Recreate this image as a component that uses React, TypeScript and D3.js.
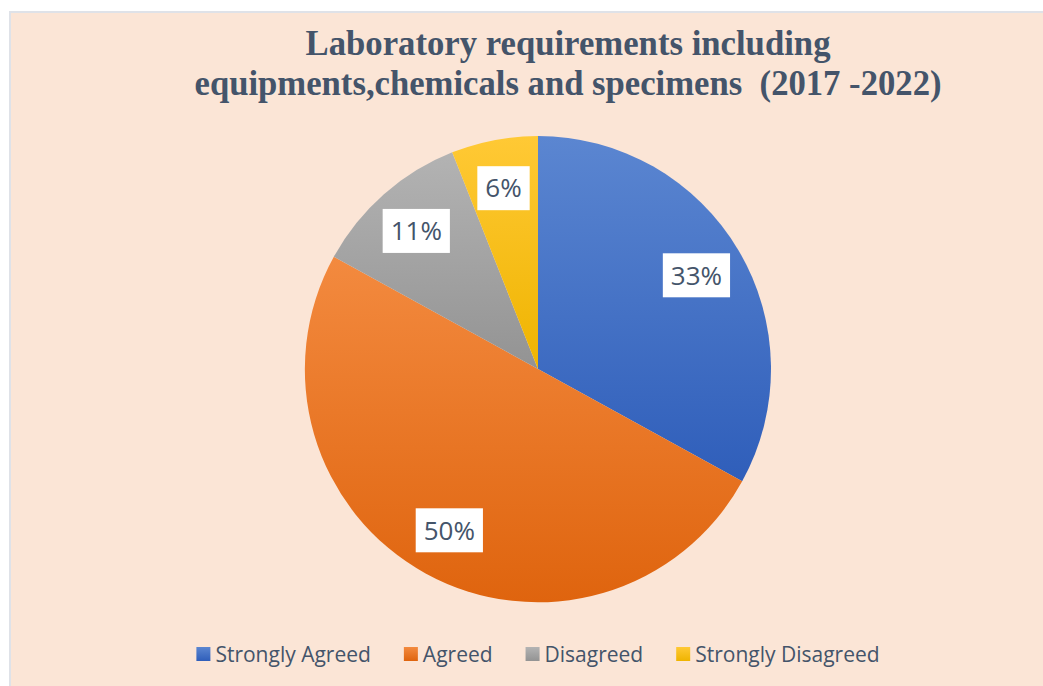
import React from 'react';
import * as d3 from 'd3';

const categories = ['Strongly Agreed', 'Agreed', 'Disagreed', 'Strongly Disagreed'];
const values = [33, 50, 11, 6];
const labels = ['33%', '50%', '11%', '6%'];
const titleLines = ['Laboratory requirements including', 'equipments,chemicals and specimens  (2017 -2022)'];

// light top -> dark bottom, like the Office gradient fill
const gradTop = ['#5b86d1', '#f38a3f', '#b3b3b3', '#ffc935'];
const gradBottom = ['#2f5eba', '#df640e', '#939393', '#efb400'];

const W = 1043;
const H = 686;
const textColor = '#44546a';
const sansFont = '"Open Sans", sans-serif';

let ctx: CanvasRenderingContext2D | null = null;
function measure(text: string, font: string) {
  if (!ctx) ctx = document.createElement('canvas').getContext('2d');
  ctx!.font = font;
  return ctx!.measureText(text).width;
}

export default function App() {
  const cx = 538;
  const cy = 369;
  const radius = 233;

  const pie = d3.pie<number>().sort(null).value(d => d);
  const arcs = pie(values);
  const arc = d3.arc<d3.PieArcDatum<number>>().innerRadius(0).outerRadius(radius);
  const labelArc = d3.arc<d3.PieArcDatum<number>>().innerRadius(radius * 0.79).outerRadius(radius * 0.79);

  const labelSize = 26;
  const legendSize = 21;

  // legend layout: square, gap, text, then gap to next item, centred on pie
  const sq = 14;
  const items = categories.map(c => measure(c, `${legendSize}px "Open Sans"`));
  const itemW = items.map(w => sq + 5 + w);
  const totalW = d3.sum(itemW) + 33 * (items.length - 1);
  let lx = cx - totalW / 2;
  const legendX = itemW.map(w => {
    const x = lx;
    lx += w + 33;
    return x;
  });

  return (
    <svg width={W} height={H} style={{ position: 'absolute', left: 0, top: 0, display: 'block' }}>
      <defs>
        {categories.map((_, i) => (
          <linearGradient key={i} id={`g${i}`} x1="0" y1="0" x2="0" y2="1">
            <stop offset="0%" stopColor={gradTop[i]} />
            <stop offset="100%" stopColor={gradBottom[i]} />
          </linearGradient>
        ))}
      </defs>
      <rect x={0} y={0} width={W} height={H} fill="#ffffff" />
      <rect x={10} y={12} width={W + 10} height={H + 10} fill="#fbe5d6" stroke="#dfe2e8" strokeWidth={2} />

      {titleLines.map((t, i) => (
        <text
          key={i}
          x={568}
          y={55 + i * 40}
          textAnchor="middle"
          fontFamily='"Liberation Serif", "Times New Roman", serif'
          fontWeight="bold"
          fontSize={35}
          fill={textColor}
          textLength={i === 0 ? 525 : 747}
          lengthAdjust="spacingAndGlyphs"
          style={{ whiteSpace: 'pre' }}
        >
          {t}
        </text>
      ))}

      <g transform={`translate(${cx},${cy})`}>
        {arcs.map((a, i) => (
          <path key={i} d={arc(a) || ''} fill={`url(#g${i})`} />
        ))}
        {arcs.map((a, i) => {
          const [px, py] = labelArc.centroid(a);
          const tw = measure(labels[i], `${labelSize}px "Open Sans"`);
          const bw = tw + 16;
          const bh = 44;
          return (
            <g key={i} transform={`translate(${px},${py})`}>
              <rect x={-bw / 2} y={-bh / 2} width={bw} height={bh} fill="#ffffff" />
              <text
                x={0}
                y={labelSize * 0.357}
                textAnchor="middle"
                fontFamily={sansFont}
                fontSize={labelSize}
                fill={textColor}
              >
                {labels[i]}
              </text>
            </g>
          );
        })}
      </g>

      <g>
        {categories.map((c, i) => (
          <g key={c} transform={`translate(${legendX[i]},0)`}>
            <rect x={0} y={647} width={sq} height={sq} fill={`url(#g${i})`} />
            <text x={sq + 5} y={662} fontFamily={sansFont} fontSize={legendSize} fill={textColor}>
              {c}
            </text>
          </g>
        ))}
      </g>
    </svg>
  );
}
